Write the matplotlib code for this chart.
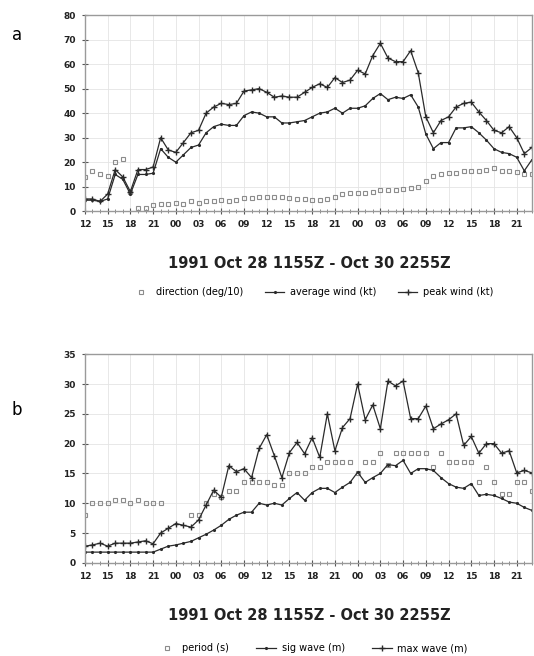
"""
Wind and wave record, 1991 Oct 28 1155Z - Oct 30 2255Z (two panels)
"""

import matplotlib.pyplot as plt
import numpy as np

plt.rcParams['font.family'] = 'DejaVu Sans'

# hours since Oct 28 12Z, one sample per hour
hours = np.arange(60)
tick_hours = np.arange(0, 60, 3)
tick_labels = ['12', '15', '18', '21', '00', '03', '06', '09',
               '12', '15', '18', '21', '00', '03', '06', '09',
               '12', '15', '18', '21']

# panel a: wind
direction = [14, 16.5, 15, 14.5, 20, 21.5, 8, 1.5, 1.5, 2.5,
             3, 3, 3.5, 3, 4, 3.5, 4, 4, 4.5, 4,
             4.5, 5.5, 5.5, 6, 6, 6, 6, 5.5, 5, 5,
             4.5, 4.5, 5, 6, 7, 7.5, 7.5, 7.5, 8, 8.5,
             8.5, 8.5, 9, 9.5, 10, 12.5, 14.5, 15, 15.5, 15.5,
             16.5, 16.5, 16.5, 17, 17.5, 16.5, 16.5, 16, 15, 15]
avg_wind = [4.5, 4.5, 4, 5, 15, 13, 7, 15, 15, 15.5,
            25.5, 22, 20, 23, 26, 27, 32, 34.5, 35.5, 35,
            35, 39, 40.5, 40, 38.5, 38.5, 36, 36, 36.5, 37,
            38.5, 40, 40.5, 42, 40, 42, 42, 43, 46, 48,
            45.5, 46.5, 46, 47.5, 42.5, 31.5, 25.5, 28, 28, 34,
            34, 34.5, 32, 29, 25.5, 24, 23.5, 22, 16.5, 21]
peak_wind = [5, 5, 4, 7, 17, 14, 8, 17, 17, 18,
             30, 25, 24, 28, 32, 33, 40, 42.5, 44, 43.5,
             44, 49, 49.5, 50, 48.5, 46.5, 47, 46.5, 46.5, 48.5,
             50.5, 52, 50.5, 54.5, 52.5, 53.5, 57.5, 56, 63.5, 68.5,
             62.5, 61, 61, 65.5, 56.5, 38.5, 32, 37, 38.5, 42.5,
             44, 44.5, 40.5, 37, 33, 32, 34.5, 30, 23.5, 26]

# panel b: waves
period = [8, 10, 10, 10, 10.5, 10.5, 10, 10.5, 10, 10,
          10, np.nan, np.nan, np.nan, 8, 8, 10, 11.5, 11, 12,
          12, 13.5, 13.5, 13.5, 13.5, 13, 13, 15, 15, 15,
          16, 16, 17, 17, 17, 17, 15, 17, 17, 18.5,
          16.5, 18.5, 18.5, 18.5, 18.5, 18.5, 16, 18.5, 17, 17,
          17, 17, 13.5, 16, 13.5, 11.5, 11.5, 13.5, 13.5, 12]
sig_wave = [1.8, 1.8, 1.8, 1.8, 1.8, 1.8, 1.8, 1.8, 1.8, 1.8,
            2.3, 2.8, 3, 3.3, 3.6, 4.2, 4.8, 5.5, 6.3, 7.3,
            8, 8.5, 8.5, 10, 9.7, 10, 9.7, 10.8, 11.8, 10.5,
            11.8, 12.5, 12.5, 11.8, 12.7, 13.5, 15.2, 13.5, 14.3, 15,
            16.5, 16.3, 17.2, 15, 15.8, 15.8, 15.5, 14.3, 13.3, 12.7,
            12.5, 13.3, 11.3, 11.5, 11.3, 10.8, 10.2, 10, 9.3, 8.8]
max_wave = [2.8, 3, 3.3, 2.8, 3.3, 3.3, 3.3, 3.5, 3.7, 3.2,
            5, 5.8, 6.6, 6.3, 6, 7.2, 9.7, 12.2, 11, 16.3,
            15.3, 15.8, 14.3, 19.2, 21.5, 18, 14.3, 18.5, 20.2, 18.3,
            21, 17.7, 25, 18.8, 22.7, 24.2, 30, 24, 26.5, 22.5,
            30.5, 29.7, 30.5, 24.2, 24.2, 26.3, 22.5, 23.3, 24, 25,
            19.7, 21.2, 18.4, 20, 20, 18.4, 18.8, 15.1, 15.5, 15.1]

title = '1991 Oct 28 1155Z - Oct 30 2255Z'
line_col = '#2a2a2a'
sq_col = '#8c8c8c'

fig = plt.figure(figsize=(5.34, 6.56), dpi=100)
ax1 = fig.add_axes([0.159, 0.678, 0.837, 0.299])
ax2 = fig.add_axes([0.159, 0.142, 0.837, 0.318])


def style_axis(ax, ymax, ystep):
    ax.set_xlim(0, 59)
    ax.set_ylim(0, ymax)
    ax.set_xticks(tick_hours)
    ax.set_xticklabels(tick_labels)
    ax.set_xticks(hours, minor=True)
    ax.set_yticks(np.arange(0, ymax + 1, ystep))
    ax.tick_params(axis='both', which='major', direction='inout', length=5,
                   width=0.8, color='#555555', labelsize=6.5, pad=4)
    ax.tick_params(axis='x', which='minor', direction='inout', length=3,
                   width=0.6, color='#777777')
    for lab in ax.get_xticklabels() + ax.get_yticklabels():
        lab.set_fontweight('bold')
        lab.set_color('#222222')
    for sp in ax.spines.values():
        sp.set_color('#9a9a9a')
        sp.set_linewidth(1.0)
    ax.grid(True, which='major', color='#e4e4e4', linewidth=0.6)
    ax.set_axisbelow(True)


# Panel a
sq1, = ax1.plot(hours, direction, linestyle='none', marker='s', markersize=3.2,
                markerfacecolor='none', markeredgecolor=sq_col,
                markeredgewidth=0.8, label='direction (deg/10)')
av1, = ax1.plot(hours, avg_wind, color=line_col, linewidth=0.9, marker='.',
                markersize=2.5, label='average wind (kt)')
pk1, = ax1.plot(hours, peak_wind, color=line_col, linewidth=0.9, marker='+',
                markersize=4, markeredgewidth=1.0, label='peak wind (kt)')
style_axis(ax1, 80, 10)

# Panel b
sq2, = ax2.plot(hours, period, linestyle='none', marker='s', markersize=3.2,
                markerfacecolor='none', markeredgecolor=sq_col,
                markeredgewidth=0.8, label='period (s)')
sg2, = ax2.plot(hours, sig_wave, color=line_col, linewidth=0.9, marker='.',
                markersize=2.5, label='sig wave (m)')
mx2, = ax2.plot(hours, max_wave, color=line_col, linewidth=0.9, marker='+',
                markersize=4, markeredgewidth=1.0, label='max wave (m)')
style_axis(ax2, 35, 5)

# Axis titles and legends below each panel
fig.text(0.58, 0.599, title, ha='center', va='center', fontsize=10.5,
         fontweight='bold', color='#222222')
fig.text(0.58, 0.062, title, ha='center', va='center', fontsize=10.5,
         fontweight='bold', color='#222222')

fig.legend(handles=[sq1, av1, pk1], loc='center', bbox_to_anchor=(0.585, 0.555),
           ncol=3, frameon=False, fontsize=7, handlelength=2.0,
           columnspacing=2.2, handletextpad=0.6)
fig.legend(handles=[sq2, sg2, mx2], loc='center', bbox_to_anchor=(0.585, 0.012),
           ncol=3, frameon=False, fontsize=7, handlelength=2.0,
           columnspacing=2.8, handletextpad=0.6)

# Panel letters
fig.text(0.022, 0.947, 'a', fontsize=12, ha='left', va='center')
fig.text(0.022, 0.375, 'b', fontsize=12, ha='left', va='center')

plt.savefig('out.png', dpi=100)
plt.close()
